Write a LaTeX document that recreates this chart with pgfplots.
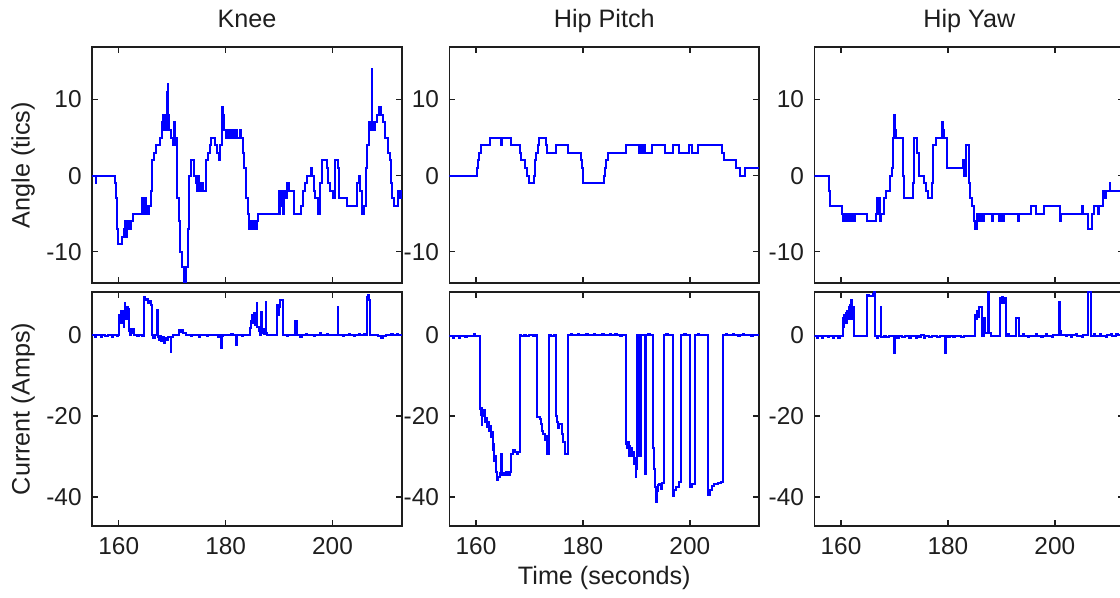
\documentclass[border=0pt]{standalone}
\usepackage{fontspec}
\setmainfont{Liberation Sans}
\usepackage{pgfplots}
\usepackage{pgfplotstable}
\pgfplotsset{compat=1.18}

\definecolor{traceblue}{RGB}{0,0,255}
\definecolor{ink}{RGB}{30,30,30}

% ---------- joint angles (tics) ----------
\pgfplotstableread{
t v
155 0
155.7 -1
155.8 0
159.3 -1
159.5 -3
159.6 -7
159.9 -9
160.6 -8
160.9 -7
161.1 -6
161.3 -8
161.5 -7
161.7 -6
162.0 -7
162.3 -6
162.6 -5
164.4 -3
164.6 -5
164.7 -3
164.9 -4
165.0 -3
165.1 -5
165.3 -4
165.5 -5
165.7 -4
166.0 -2
166.3 2
166.6 3
167.0 4
167.8 5
168.1 7
168.3 8
168.5 6
168.6 8
168.7 6
168.8 7
168.9 6
169.0 11
169.1 7
169.2 12
169.3 6
169.4 8
169.5 6
169.7 5
170.1 4
170.4 7
170.5 4
170.8 5
170.9 -3
171.3 -6
171.5 -10
171.9 -12
172.2 -15
172.6 -12
172.9 -7
173.2 0
173.5 2
174.1 0
174.4 -1
174.6 -2
174.8 0
175.0 -1
175.3 -2
175.5 -1
175.7 -2
176.3 2
176.7 3
177.0 4
177.3 5
178.0 4
178.4 3
178.7 2
179.0 4
179.3 9
179.5 8
179.7 6
180.0 5
180.5 6
180.7 5
181.0 6
181.2 5
181.5 6
181.7 5
182.0 6
182.2 5
182.6 6
182.9 5
183.2 3
183.5 1
183.8 -3
184.1 -5
184.3 -7
184.8 -6
185.0 -7
185.4 -6
185.6 -7
185.8 -6
186.1 -5
189.9 -2
190.0 -5
190.2 -2
190.4 -4
190.5 -2
190.7 -5
190.9 -2
191.1 -3
191.5 -1
191.8 -2
192.8 -5
194.1 -4
194.4 -2
194.9 -1
195.3 0
195.9 1
196.2 0
196.5 -2
196.8 -3
197.2 -5
197.7 -1
198.0 2
198.9 1
199.2 -1
199.6 -2
200.0 -3
200.4 2
201.1 1
201.3 -3
202.8 -4
204.6 -1
205.0 0
205.2 -2
205.5 -5
205.9 -4
206.2 1
206.5 4
206.8 7
207.0 6
207.2 7
207.3 14
207.45 6
207.6 7
207.8 6
208.0 7
208.4 8
208.7 9
209.1 8
209.4 7
209.9 5
210.3 3
210.8 2
211.0 -1
211.2 -3
211.5 -4
212.2 -2
212.5 -3
212.8 -2
213 -2
}\kneeangle

\pgfplotstableread{
t v
155 0
160.1 1
160.3 2
160.6 3
160.9 4
162.6 5
164.7 4
164.8 5
166.6 4
168.2 3
168.5 2
169.1 1
169.6 0
169.9 -1
170.8 0
171.0 2
171.3 3
171.6 4
171.8 5
173.0 4
173.3 3
175.0 4
177.3 3
179.6 2
179.8 1
180.0 -1
183.9 0
184.1 1
184.3 2
184.6 3
188.1 4
190.4 3
190.6 4
190.8 3
191.0 4
191.2 3
191.4 4
191.6 3
193.0 4
195.3 3
196.9 4
198.0 3
199.9 4
200.5 3
201.6 4
206.1 3
206.4 2
208.6 1
209.4 0
210.3 1
213 1
}\pitchangle

\pgfplotstableread{
t v
155 0
157.7 -2
157.9 -4
160.2 -5
160.4 -6
160.6 -5
160.8 -6
161.0 -5
161.2 -6
161.4 -5
161.6 -6
161.8 -5
162.0 -6
162.2 -5
162.4 -6
162.6 -5
164.9 -6
166.5 -5
166.75 -3
166.9 -5
167.05 -3
167.2 -6
167.4 -5
168.1 -3
168.4 -2
169.2 0
169.5 1
169.75 5
169.9 8
170.05 6
170.3 5
171.65 0
171.8 -3
173.45 -1
173.65 5
174.3 3
174.55 0
175.5 -1
175.9 -2
176.3 -3
177.0 -1
177.2 4
177.8 5
178.9 7
179.1 6
179.3 5
179.9 1
182.9 2
183.1 0
183.4 4
183.9 1
184.0 -1
184.2 -3
184.5 -4
184.8 -6
185.1 -7
185.4 -5
185.6 -6
185.8 -5
186.0 -6
186.2 -5
186.6 -6
186.7 -5
188.2 -6
188.5 -5
189.6 -6
189.7 -5
189.9 -6
190.1 -5
190.3 -6
190.5 -5
193.2 -6
193.35 -5
195.5 -4
196.5 -5
198.0 -4
200.9 -5
201.0 -6
201.1 -5
205.0 -4
205.3 -5
206.2 -7
207.0 -5
207.4 -4
208.1 -5
208.3 -4
209.1 -2
209.35 -3
209.5 -2
210.3 -1
210.4 -2
213 -2
}\yawangle

% ---------- motor currents (Amps) ----------
\pgfplotstableread{
t v
155 0
155.6 -0.4
155.8 0
156.6 -0.4
156.8 0
157.5 -0.3
158.0 0
158.8 -0.4
159.0 0
159.6 -0.3
159.8 0
160.1 5
160.3 3
160.4 6
160.5 4
160.6 6
160.7 3
160.8 6
160.9 2
161.0 5
161.1 7.9
161.2 5
161.3 7
161.45 4
161.55 7
161.7 5
161.8 6.5
161.95 1
162.1 0
162.3 1.5
162.5 0.5
162.7 1.5
162.9 0
163.4 -0.3
163.8 0
164.3 -0.3
164.7 9.5
164.9 8.7
165.2 9
165.5 8
165.8 8.5
166.0 7.5
166.3 0
166.5 -0.6
166.7 0
167.25 6.3
167.35 -0.5
167.6 -1.2
167.8 -0.3
168.0 -1.5
168.2 -0.5
168.5 -1.8
168.7 -0.6
169.0 -1.2
169.3 -0.4
169.75 -4.2
169.85 -0.5
170.2 0
171.2 1.2
171.5 0.8
171.8 1.3
172.1 0.5
172.5 0
173.5 -0.3
173.8 0
175.0 -0.4
175.2 0
176.5 -0.3
176.7 0
178.5 -0.4
178.7 0
179.15 -3.2
179.35 -0.2
179.6 0
181.0 0.4
181.3 0
182.0 -2.4
182.15 0
183.0 -0.3
183.3 0
184.6 1.8
184.8 3.4
185.0 5
185.2 3
185.35 5.4
185.5 2.5
185.7 5
185.85 7.9
185.95 2
186.2 1
186.4 0
186.65 5.8
186.75 0.5
186.9 1.5
187.1 0.3
187.5 8.3
187.6 0.5
187.8 0
189.7 7.5
189.8 6.5
189.9 5
190.0 7
190.2 8.7
190.5 8.7
190.8 0
191.4 -0.3
191.7 0
193.0 3.4
193.4 0
194.0 -0.4
194.2 0
195.0 0.3
195.3 0
196.5 -0.3
196.8 0
197.6 0.5
197.9 0
199.0 0.3
199.2 0
200.95 7.1
201.05 0
202.0 -0.3
202.2 0
203.0 0.4
203.3 0
204.0 -0.3
204.3 0
205.0 0.4
205.2 0
205.8 0.3
206.0 0
206.4 9.5
206.6 10
206.8 8.7
206.95 7.5
207.1 0
208.5 -0.3
209.0 -0.7
209.5 -0.2
210.0 0
211.0 0.3
211.3 0
212.0 0.3
212.3 0
213 0
}\kneecurrent

\pgfplotstableread{
t v
155 -0.3
155.7 -0.6
155.9 -0.3
156.8 -0.6
157.0 -0.3
158.0 -0.5
158.3 -0.3
159.6 0.3
159.8 -0.3
160.75 -18.2
160.9 -19.8
161.0 -18
161.13 -22.3
161.2 -19
161.4 -20
161.57 -18.5
161.7 -21.5
161.88 -20.5
162.0 -22.7
162.3 -21.5
162.5 -23.6
162.7 -22.5
162.82 -25.2
163.0 -24
163.13 -28.5
163.3 -27
163.45 -31
163.6 -30
163.77 -33.9
163.9 -35.9
164.1 -35
164.27 -35.1
164.5 -34
164.6 -34.7
164.71 -29.3
164.8 -34.7
164.9 -34.0
165.3 -34.7
165.6 -33.9
165.9 -34.7
166.3 -33.9
166.6 -29.3
166.9 -28.5
167.2 -28.9
167.6 -29.3
167.85 -28.9
168.17 0
168.5 -0.3
169.0 0
169.4 -0.3
170.0 0
170.6 -0.3
171.0 0
171.5 -20.2
171.94 -20.7
172.1 -22
172.26 -23.6
172.57 -24.4
172.89 -26
173.0 -25
173.2 -29.3
173.7 0
174.0 -0.3
174.5 0
174.96 -20
175.2 -21.5
175.4 -23
175.6 -22
176.03 -24.4
176.34 -26.4
176.66 -29.3
177.29 0
177.8 0.2
178.0 0
179.0 0.3
179.3 0
180.5 0.2
181.0 0
182.0 0.3
182.2 0
183.5 0.2
184.0 0
185.0 0.3
185.3 0
186.0 0.3
186.3 0
187.0 -0.3
187.4 0
188.06 -19.8
188.15 -26.9
188.3 -28
188.45 -26.5
188.6 -30
188.75 -27.5
188.9 -29.5
189.05 -28
189.2 -30
189.4 -29
189.6 -31.8
189.75 -30.5
189.85 -35
189.95 -31.5
190.1 -33
190.2 0
190.5 -30
190.85 0
191.6 -34.3
191.8 0
192.2 0.3
192.5 0
193.1 -28
193.3 -33
193.5 -37.6
193.75 -41.3
193.85 -38.5
194.1 -37
194.3 -36.8
194.6 -38
194.8 -36.5
195.2 0
195.6 0.3
195.9 0
196.8 -39.7
197.1 -38.4
197.5 -37.6
197.9 -36.4
198.4 0
199.0 0.3
199.3 0
200.1 -37.6
200.5 -36.8
200.9 0
201.5 0.3
201.8 0
203.4 -39.6
203.7 -38.3
204.1 -37.3
204.6 -36.8
205.3 -36.5
205.8 -36.2
206.2 0
206.7 0.3
207.0 0
208.0 0.3
208.2 0
209.0 -0.3
209.3 0
210.0 0.3
210.2 0
211.5 -0.3
211.8 0
213 0
}\pitchcurrent

\pgfplotstableread{
t v
155 -0.3
155.5 -0.6
155.7 -0.3
156.5 -0.7
156.7 -0.3
157.5 -0.5
157.8 -0.3
158.5 -0.7
158.7 -0.3
159.5 -0.6
159.8 -0.3
160.3 4.2
160.5 2
160.6 5
160.75 3
160.9 5.5
161.0 3
161.1 6
161.25 4
161.4 7
161.5 4
161.65 7.5
161.8 5
161.9 8.7
162.0 4
162.1 7
162.36 -0.2
163.0 -0.3
164.85 10
165.2 9.7
165.6 9.7
166.0 10.2
166.15 10.8
166.4 -0.2
166.7 -0.6
167.0 -0.3
167.46 7.1
167.55 -0.5
168.0 -0.2
168.5 -0.5
169.0 -0.2
169.95 -4.4
170.05 -0.3
170.5 -0.6
170.8 -0.2
171.5 -0.5
172.0 -0.2
172.8 -0.6
173.0 -0.2
174.0 -0.6
174.2 -0.1
174.6 -0.5
175.0 0
175.5 -0.6
175.7 -0.1
176.5 -0.4
177.0 -0.1
178.0 -0.4
178.5 -0.1
179.4 -4.4
179.55 -0.2
180.0 -0.5
180.3 -0.1
181.0 -0.5
181.3 -0.2
182.5 -0.4
183.0 -0.1
185.06 5
185.3 4
185.5 6
185.7 4.5
185.9 7.1
186.3 -0.2
186.8 4.2
187.0 0.5
187.5 10.8
187.6 0.5
188.0 -0.2
189.7 9.1
189.9 8
190.1 9.5
190.3 8
190.5 9.1
190.85 -0.2
191.3 0.3
191.5 -0.3
192.8 4.2
193.3 -0.2
194.0 0.3
194.2 -0.2
195.0 -0.5
195.2 -0.1
196.5 0.3
196.7 -0.2
197.5 -0.5
197.7 -0.1
198.3 0.4
198.5 -0.2
199.5 -0.4
199.7 0
200.85 8.3
200.95 1
201.1 0
202.0 -0.3
202.3 0.1
203.0 -0.4
203.3 0
204.0 0.3
204.2 -0.2
205.0 -0.5
205.2 0
206.2 10.8
206.8 -0.2
207.3 0.2
207.5 -0.3
208.5 0.3
208.7 -0.1
209.5 -0.4
209.8 0
210.5 0.3
210.7 -0.1
211.5 0.3
211.8 0
213 0
}\yawcurrent

\pgfplotsset{
  panel/.style={
    scale only axis, width=155pt,
    xmin=155, xmax=213,
    xtick={160,180,200},
    tick align=inside, tick pos=both,
    major tick length=3pt,
    axis line style={ink, line width=0.8pt},
    every tick/.append style={ink, line width=0.7pt},
    tick label style={font=\fontsize{12.2}{14}\selectfont, text=ink},
    yticklabel style={anchor=east, inner sep=0pt, xshift=-5pt},
    xticklabel style={anchor=base, inner sep=0pt, yshift=-14.5pt},
    label style={font=\fontsize{12.6}{15}\selectfont, text=ink},
    title style={font=\fontsize{12.6}{15}\selectfont, text=ink,
                 at={(0.5,1)}, anchor=base, yshift=3.7pt},
    ylabel style={at={(axis description cs:-0.2226,0.5)}, anchor=center},
    clip=true,
  },
  angle/.style={panel, height=118pt, ymin=-14.1, ymax=16.9,
    ytick={-10,0,10}, yticklabels={-10,0,10}, xticklabels={}},
  current/.style={panel, height=117pt, ymin=-47.2, ymax=10.7,
    ytick={-40,-20,0}, yticklabels={-40,-20,0}, xticklabels={160,180,200}},
  signal/.style={const plot, color=traceblue, line width=1pt, mark=none},
}

\begin{document}
\begin{tikzpicture}
\path[use as bounding box] (0,0) rectangle (560pt,299pt);
\begin{scope}
\clip (0,0) rectangle (560pt,299pt);

% Knee
\begin{axis}[angle, at={(46pt,157.5pt)}, anchor=south west,
  title={Knee}, ylabel={Angle (tics)}]
  \addplot[signal] table[x=t,y=v] {\kneeangle};
\end{axis}
\begin{axis}[current, at={(46pt,36pt)}, anchor=south west,
  ylabel={Current (Amps)}]
  \addplot[signal] table[x=t,y=v] {\kneecurrent};
\end{axis}

% Hip pitch
\begin{axis}[angle, at={(224.65pt,157.5pt)}, anchor=south west,
  title={Hip Pitch}]
  \addplot[signal] table[x=t,y=v] {\pitchangle};
\end{axis}
\begin{axis}[current, at={(224.65pt,36pt)}, anchor=south west,
  xlabel={Time (seconds)},
  xlabel style={at={(axis description cs:0.5,-0.2521)}, anchor=base}]
  \addplot[signal] table[x=t,y=v] {\pitchcurrent};
\end{axis}

% Hip yaw
\begin{axis}[angle, at={(407.15pt,157.5pt)}, anchor=south west,
  title={Hip Yaw}]
  \addplot[signal] table[x=t,y=v] {\yawangle};
\end{axis}
\begin{axis}[current, at={(407.15pt,36pt)}, anchor=south west]
  \addplot[signal] table[x=t,y=v] {\yawcurrent};
\end{axis}
\end{scope}
\end{tikzpicture}
\end{document}
